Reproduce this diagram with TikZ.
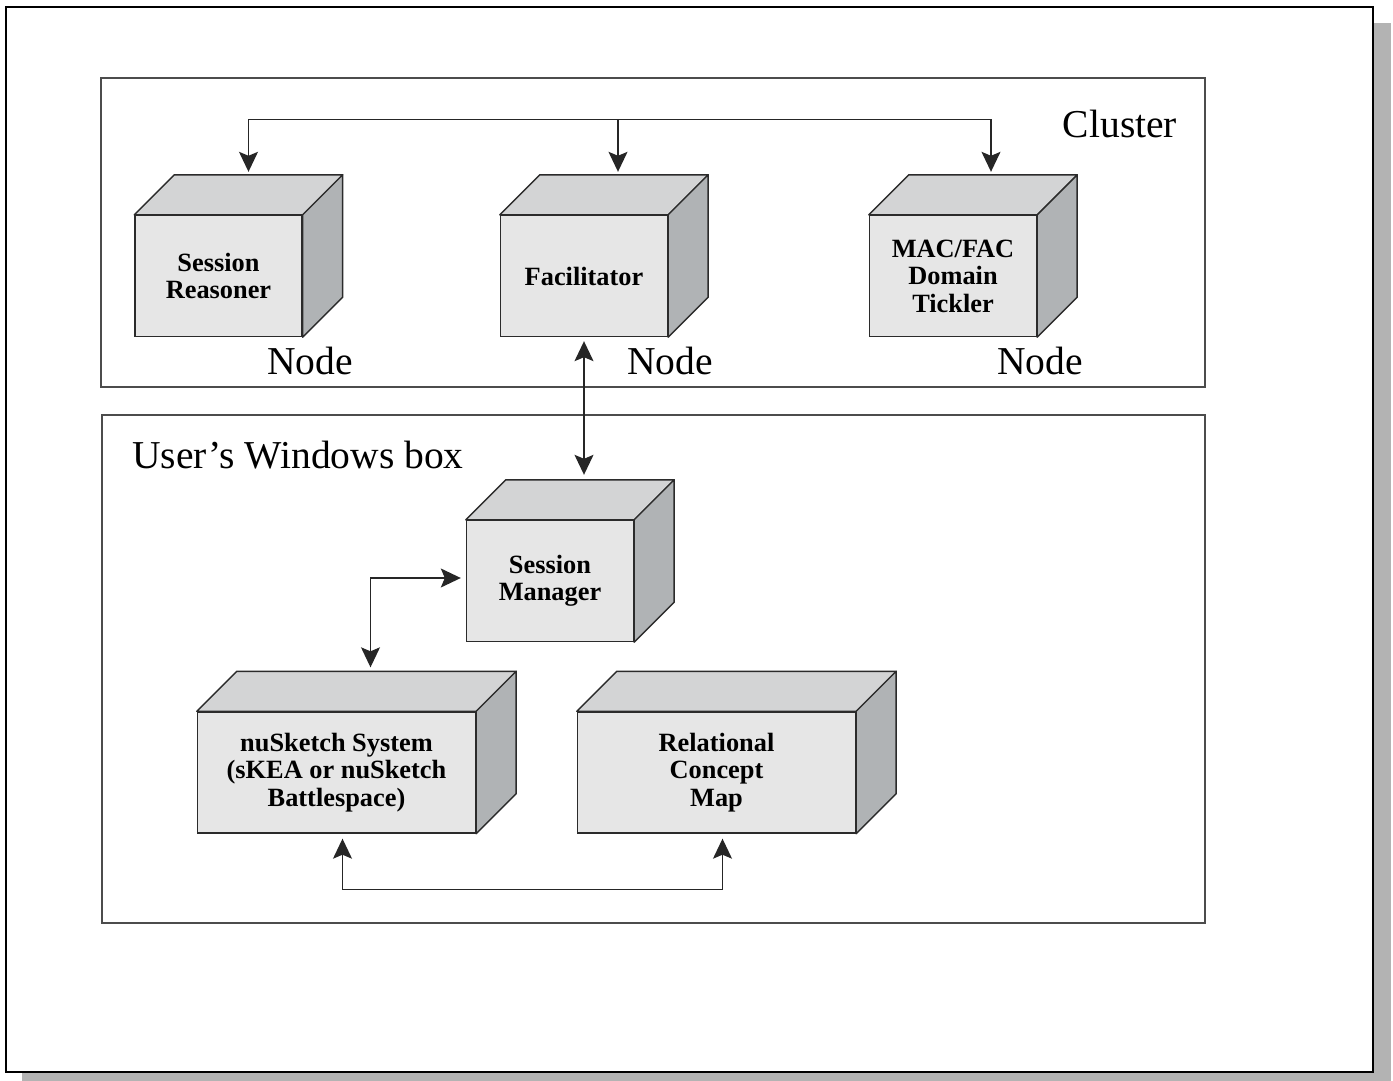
\documentclass[tikz,border=0pt]{standalone}
\usepackage{fontspec}
\setmainfont{Liberation Serif}
\usetikzlibrary{positioning}
\usetikzlibrary{arrows.meta}

\definecolor{cubefront}{HTML}{E6E6E6}
\definecolor{cubetop}{HTML}{D3D4D5}
\definecolor{cubeside}{HTML}{B0B3B5}
\definecolor{cubeline}{HTML}{2B2B2B}
\definecolor{pageshadow}{HTML}{B3B3B3}

\begin{document}
\begin{tikzpicture}[x=0.02cm,y=-0.02cm,
  cube/.style={draw=cubeline,fill=cubefront,line width=0.8pt,inner sep=0pt,
    align=center,font=\fontsize{15}{15.6}\selectfont\bfseries,
    minimum height=2.42cm},
  smallcube/.style={cube,minimum width=3.34cm},
  widecube/.style={cube,minimum width=5.56cm},
  frame/.style={draw=black!70,line width=0.6pt},
  biglabel/.style={font=\fontsize{22.5}{24}\selectfont},
  link/.style={draw=black!85,line width=0.7pt,
    >={Stealth[length=4mm,width=3.8mm,inset=0.8mm]}}]
 \useasboundingbox (0,0) rectangle (1393,1081);
 % page with shadow
 \fill[pageshadow](22,23) rectangle (1391,1081);
 \draw[fill=white,line width=1.1pt](6,7) rectangle (1373,1072);
 % cluster and windows box
 \draw[frame](101,78) rectangle (1205,387);
 \draw[frame](102,415) rectangle (1205,923);
 \node[biglabel] (cluster) at (1120,124) {Cluster};
 \node[biglabel,anchor=west] (winbox) at (126,455) {User's Windows box};
 % front faces
 \node[smallcube] (reasoner) at (218.5,276) {Session\\Reasoner};
 \node[smallcube] (facil) at (584,276) {Facilitator};
 \node[smallcube] (macfac) at (953,276) {MAC/FAC\\Domain\\Tickler};
 \node[smallcube] (manager) at (550,581) {Session\\Manager};
 \node[widecube] (nusketch) at (336.5,772.5) {nuSketch System\\(sKEA or nuSketch\\Battlespace)};
 \node[widecube] (concept) at (716.5,772.5) {Relational\\Concept\\Map};
 % top and side faces
 \foreach \n in {reasoner,facil,macfac,manager,nusketch,concept}{
  \draw[draw=cubeline,fill=cubetop,line width=0.8pt,line join=round](\n.north west)--([shift={(40,-40)}]\n.north west)--([shift={(40,-40)}]\n.north east)--(\n.north east)--cycle;
  \draw[draw=cubeline,fill=cubeside,line width=0.8pt,line join=round](\n.north east)--([shift={(40,-40)}]\n.north east)--([shift={(40,-40)}]\n.south east)--(\n.south east)--cycle;
 }
 % node labels
 \node[biglabel] (nodeA) at (310,361) {Node};
 \node[biglabel] (nodeB) at (670,361) {Node};
 \node[biglabel] (nodeC) at (1040,361) {Node};
 % connectors
 \coordinate (bus) at ([shift={(34,-95)}]facil.north);
 \draw[link,<->] ([shift={(30,-43)}]reasoner.north) |- (bus) -| ([shift={(38,-43)}]macfac.north);
 \draw[link,->] (bus) -- ([shift={(34,-43)}]facil.north);
 \draw[link,<->] ([shift={(0,4)}]facil.south) -- ([shift={(34,-45)}]manager.north);
 \draw[link,<->] ([shift={(34,-44)}]nusketch.north) |- ([shift={(-5,-3)}]manager.west);
 \draw[link,<->] ([shift={(6,5)}]nusketch.south) -- ++(0,51) -| ([shift={(6,5)}]concept.south);
\end{tikzpicture}
\end{document}
